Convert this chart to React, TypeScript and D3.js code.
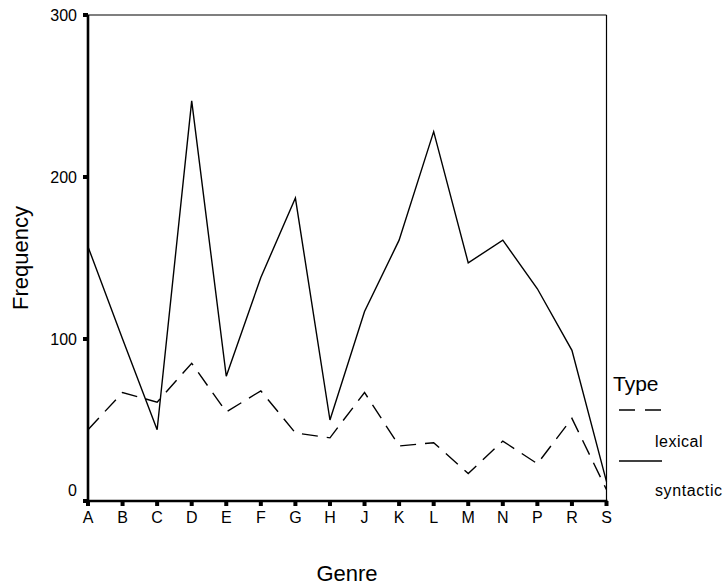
import React from "react";
import * as d3 from "d3";

const categories = ["A", "B", "C", "D", "E", "F", "G", "H", "J", "K", "L", "M", "N", "P", "R", "S"];
const lexical = [44, 67, 61, 85, 55, 68, 42, 39, 67, 34, 36, 17, 37, 23, 51, 7];
const syntactic = [157, 100, 44, 247, 77, 138, 187, 50, 117, 161, 228, 147, 161, 131, 93, 12];
const yTicks = [0, 100, 200, 300];
const seriesNames = ["lexical", "syntactic"];

const W = 725;
const H = 585;
const FONT = "'Liberation Sans', Arial, sans-serif";

export default function App() {
  const x = d3.scalePoint<string>().domain(categories).range([88, 606.5]);
  const y = d3.scaleLinear().domain([0, 300]).range([501, 15]);
  const line = d3
    .line<number>()
    .x((_, i) => x(categories[i]) as number)
    .y((d) => y(d));

  const left = x(categories[0]) as number;
  const right = x(categories[categories.length - 1]) as number;
  const top = y(300);
  const bottom = y(0);

  return (
    <svg
      width={W}
      height={H}
      style={{ position: "absolute", left: 0, top: 0, background: "#fff" }}
      fontFamily={FONT}
    >
      <rect x={0} y={0} width={W} height={H} fill="#fff" />
      {/* frame top/right thin */}
      <line x1={left} x2={right} y1={top} y2={top} stroke="#000" strokeWidth={1.2} />
      <line x1={right} x2={right} y1={top} y2={bottom} stroke="#000" strokeWidth={1.2} />

      {/* data */}
      <path d={line(syntactic) || ""} fill="none" stroke="#000" strokeWidth={1.4} strokeLinejoin="miter" />
      <path d={line(lexical) || ""} fill="none" stroke="#000" strokeWidth={1.4} strokeDasharray="16,9" />

      {/* axes thick */}
      <line x1={left} x2={left} y1={top} y2={bottom + 1} stroke="#000" strokeWidth={2.6} />
      <line x1={left - 1} x2={right + 1} y1={bottom} y2={bottom} stroke="#000" strokeWidth={2.6} />

      {/* y ticks */}
      {yTicks.map((t) => (
        <g key={t}>
          <rect x={left - 5} y={y(t) - 2} width={5} height={4} fill="#000" />
          <text
            x={77}
            y={y(t) + (t === 0 ? -9 : 2)}
            textAnchor="end"
            dominantBaseline="middle"
            fontSize={16}
            fill="#000"
          >
            {t}
          </text>
        </g>
      ))}

      {/* x ticks */}
      {categories.map((c) => (
        <g key={c}>
          <rect x={(x(c) as number) - 2} y={bottom} width={4} height={5} fill="#000" />
          <text x={x(c) as number} y={bottom + 22} textAnchor="middle" fontSize={16} fill="#000">
            {c}
          </text>
        </g>
      ))}

      {/* axis titles */}
      <text
        transform={`translate(28, ${(top + bottom) / 2}) rotate(-90)`}
        textAnchor="middle"
        fontSize={22}
        fill="#000"
      >
        Frequency
      </text>
      <text x={347} y={581} textAnchor="middle" fontSize={22} fill="#000">
        Genre
      </text>

      {/* legend */}
      <text x={613} y={391} fontSize={21} fill="#000">
        Type
      </text>
      <line x1={619} x2={662} y1={410} y2={410} stroke="#000" strokeWidth={1.4} strokeDasharray="16,10" />
      <text x={655} y={447} fontSize={16} letterSpacing={0.5} fill="#000">
        {seriesNames[0]}
      </text>
      <line x1={619} x2={662} y1={461} y2={461} stroke="#000" strokeWidth={1.4} />
      <text x={655} y={496} fontSize={16} letterSpacing={0.6} fill="#000">
        {seriesNames[1]}
      </text>
    </svg>
  );
}
